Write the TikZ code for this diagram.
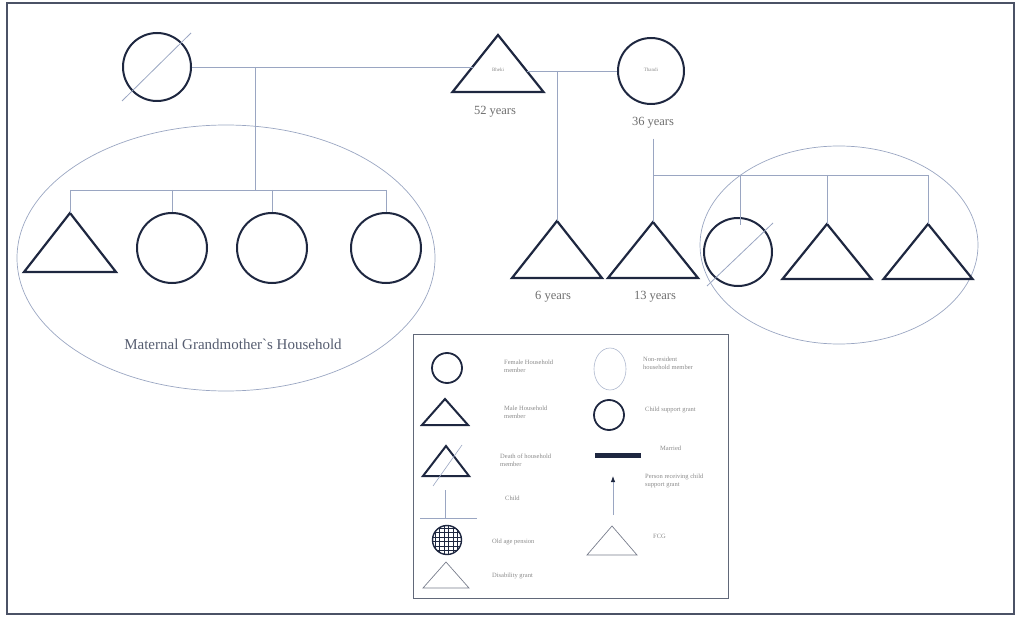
\documentclass[tikz,border=0pt]{standalone}
\usepackage{fontspec}
\setmainfont{Liberation Serif}
\usetikzlibrary{arrows.meta,shapes.geometric}
\definecolor{ink}{HTML}{1E2740}
\definecolor{thinc}{HTML}{9AA6C2}
\definecolor{labc}{HTML}{6E6E6E}
\definecolor{legc}{HTML}{8A8A8A}
\newcommand{\tri}[5]{% name, apex x, apex y, half width, height
  \coordinate (#1) at (#2,#3);
  \coordinate (#1-l) at ({#2-#4},{#3+#5});
  \coordinate (#1-r) at ({#2+#4},{#3+#5});
}
\begin{document}
\begin{tikzpicture}[x=1pt,y=-1pt,
  thinl/.style={draw=thinc,line width=0.8pt},
  bold/.style={draw=ink,line width=2.2pt,line join=miter},
  pc/.style={circle,draw=ink,line width=2pt,minimum size=#1,inner sep=0pt},
  agelab/.style={text=labc,font=\fontsize{12.5}{14}\selectfont,inner sep=0pt},
  namelab/.style={text=legc,font=\fontsize{5}{6}\selectfont,inner sep=0pt},
  leglab/.style={text=legc,font=\fontsize{6.5}{8}\selectfont,inner sep=0pt,anchor=west,align=left},
  hh/.style={draw=thinc,line width=0.7pt}]
\path[use as bounding box] (0,0) rectangle (1017,620);
% outer frame
\draw[draw=ink!80,line width=1.2pt] (7,3) rectangle (1014,614);

% ---- households (ellipses)
\node[hh,ellipse,minimum width=418pt,minimum height=266pt,inner sep=0pt] (mgh) at (226,258) {};
\node[hh,ellipse,minimum width=278pt,minimum height=198pt,inner sep=0pt] (rh) at (839,245) {};

% ---- top generation
\node[pc=68pt] (gm) at (157,67) {};
\draw[thinl] (122,101) -- (191,33);
\tri{bh}{498}{35}{45.5}{57}
\draw[bold] (bh-l) -- (bh) -- (bh-r) -- cycle;
\node[namelab] (bhn) at (498,70) {Bheki};
\node[agelab] (bha) at (495,112) {52 years};
\node[pc=66pt] (th) at (651,71) {};
\node[namelab] (thn) at (651,70) {Thandi};
\node[agelab] (tha) at (653,123) {36 years};

\coordinate (bL) at (472.5,67);
\coordinate (bR) at (527,71);
\coordinate (gmd) at (255,67);
\coordinate (m1) at (557,71);
\draw[thinl] (gm.east) -- (bL);
\draw[thinl] (bR) -- (th.west);

% ---- maternal grandmother's household children
\coordinate (s0) at (70,190);
\coordinate (s1) at (172,190);
\coordinate (s2) at (272,190);
\coordinate (s3) at (386,190);
\draw[thinl] (gmd) -- (gmd |- s0);
\draw[thinl] (s0) -- (s3);
\tri{k0}{70}{213}{46}{59}
\draw[bold] (k0-l) -- (k0) -- (k0-r) -- cycle;
\node[pc=70pt] (k1) at (172,248) {};
\node[pc=70pt] (k2) at (272,248) {};
\node[pc=70pt] (k3) at (386,248) {};
\draw[thinl] (s0) -- (k0);
\draw[thinl] (s1) -- (k1.north);
\draw[thinl] (s2) -- (k2.north);
\draw[thinl] (s3) -- (k3.north);
\node[text=ink!75,font=\fontsize{15}{17}\selectfont,inner sep=0pt] (mghl) at (233,344) {Maternal Grandmother\textasciigrave s Household};

% ---- Bheki & Thandi children
\tri{c1}{557}{221}{45}{57}
\draw[bold] (c1-l) -- (c1) -- (c1-r) -- cycle;
\tri{c2}{653}{222}{45}{56}
\draw[bold] (c2-l) -- (c2) -- (c2-r) -- cycle;
\draw[thinl] (m1) -- (c1);
\draw[thinl] (tha.south) ++(0,10) coordinate (tv) -- (c2);
\node[agelab] (c1a) at (553,297) {6 years};
\node[agelab] (c2a) at (655,297) {13 years};

% ---- right household children
\coordinate (r0) at (740,175);
\coordinate (r1) at (827,175);
\coordinate (r2) at (928,175);
\coordinate (tvj) at (653,175);
\draw[thinl] (tvj) -- (r2);
\node[pc=68pt] (g0) at (738,252) {};
\draw[thinl] (707,286) -- (773,223);
\tri{g1}{827}{224}{44.5}{55}
\draw[bold] (g1-l) -- (g1) -- (g1-r) -- cycle;
\tri{g2}{928}{224}{44.5}{55}
\draw[bold] (g2-l) -- (g2) -- (g2-r) -- cycle;
\draw[thinl] (r0) -- (740,225);
\draw[thinl] (r1) -- (g1);
\draw[thinl] (r2) -- (g2);

% ---- legend
\draw[draw=ink!70,line width=0.9pt] (413,334) rectangle (728,598);
% female
\node[circle,draw=ink,line width=1.8pt,minimum size=30pt,inner sep=0pt] (lf) at (447,368) {};
\node[leglab] (lft) at (504,366) {Female Household\\member};
% male
\tri{lm}{445}{399}{23}{26}
\draw[draw=ink,line width=2pt] (lm-l) -- (lm) -- (lm-r) -- cycle;
\node[leglab] (lmt) at (504,412) {Male Household\\member};
% death
\tri{ld}{446}{446}{23}{30}
\draw[draw=ink,line width=2pt] (ld-l) -- (ld) -- (ld-r) -- cycle;
\draw[thinl,line width=0.6pt] (433,486) -- (462,445);
\node[leglab] (ldt) at (500,460) {Death of household\\member};
% child
\coordinate (lc) at (445,490);
\coordinate (lcb) at (445,518);
\draw[thinl] (lc) -- (lcb);
\draw[thinl] (420,518) -- (477,518);
\node[leglab] (lct) at (505,498) {Child};
% old age pension
\node[circle,draw=ink,line width=1.4pt,minimum size=29pt,inner sep=0pt] (lo) at (447,540) {};
\begin{scope}
  \clip (lo.center) circle (14.5pt);
  \foreach \d in {-12,-7.5,...,13} {
    \draw[ink,line width=0.9pt] (447+\d,520) -- (447+\d,560);
    \draw[ink,line width=0.9pt] (427,540+\d) -- (467,540+\d);
  }
\end{scope}
\node[leglab] (lot) at (492,542) {Old age pension};
% disability
\tri{ldg}{446}{562}{23}{26}
\draw[draw=ink!60,line width=0.7pt] (ldg-l) -- (ldg) -- (ldg-r) -- cycle;
\node[leglab] (ldgt) at (492,576) {Disability grant};
% non-resident
\node[ellipse,draw=thinc!80,line width=0.6pt,minimum width=32pt,minimum height=42pt,inner sep=0pt] (lnr) at (610,369) {};
\node[leglab] (lnrt) at (643,363) {Non-resident\\household member};
% child support grant
\node[circle,draw=ink,line width=1.8pt,minimum size=30pt,inner sep=0pt] (lcs) at (609,415) {};
\node[leglab] (lcst) at (645,410) {Child support grant};
% married
\coordinate (lma) at (595,455);
\coordinate (lmb) at (641,455);
\draw[ink,line width=5pt] (lma) -- (lmb);
\node[leglab] (lmat) at (660,448) {Married};
% person receiving csg
\coordinate (lpa) at (613,515);
\coordinate (lpb) at (613,476);
\draw[thinl,-{Latex[length=6pt,width=4.5pt,color=ink]}] (lpa) -- (lpb);
\node[leglab] (lpt) at (645,481) {Person receiving child\\support grant};
% FCG
\tri{lfcg}{612}{526}{25}{29}
\draw[draw=ink!60,line width=0.7pt] (lfcg-l) -- (lfcg) -- (lfcg-r) -- cycle;
\node[leglab] (lfcgt) at (653,536) {FCG};
\end{tikzpicture}
\end{document}
